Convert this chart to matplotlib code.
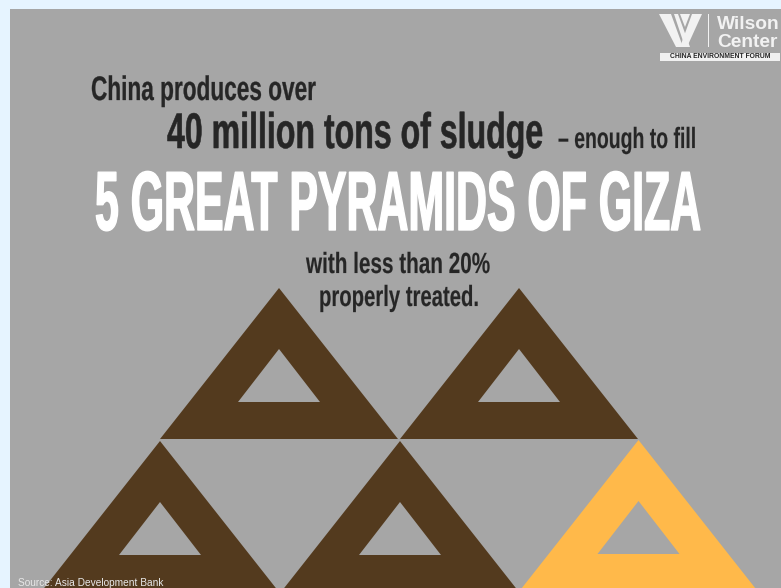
import matplotlib
matplotlib.use("Agg")
import matplotlib.pyplot as plt
import matplotlib.patheffects as pe
from matplotlib.patches import Polygon, Rectangle
from matplotlib.text import Text
from matplotlib.transforms import Affine2D, Bbox

# pyramids, left to right and top to bottom; the last one is the treated share
apex_x = [279, 519, 160, 400, 638.5]
apex_y = [288, 288, 441, 441, 440]
pyramid_color = ["#533A1E", "#533A1E", "#533A1E", "#533A1E", "#FFB94A"]

half_base = 119
height = 151
hole_top = 61
hole_height = 53
hole_half_base = 41

background = "#A6A6A6"
page = "#E6F4FF"
dark = "#262626"
logo = "#F2F2F2"

# squeezes glyphs sideways, there is no condensed font to hand
class Squeeze(pe.AbstractPathEffect):
    def __init__(self, sx, stroke):
        super().__init__()
        self.sx = sx
        self.stroke = stroke

    def draw_path(self, renderer, gc, tpath, affine, rgbFace=None):
        gc0 = renderer.new_gc()
        gc0.copy_properties(gc)
        gc0.set_linewidth(self.stroke)
        gc0.set_foreground(rgbFace)
        renderer.draw_path(gc0, tpath, Affine2D().scale(self.sx, 1) + affine, rgbFace)
        gc0.restore()


class CondensedText(Text):
    sx = 1.0

    def get_window_extent(self, renderer=None, dpi=None):
        box = super().get_window_extent(renderer, dpi)
        return Bbox.from_extents(box.x0, box.y0, box.x0 + box.width * self.sx, box.y1)


fig = plt.figure(figsize=(7.81, 5.88), dpi=100, facecolor=page)
ax = fig.add_axes([0, 0, 1, 1])
ax.set_xlim(0, 781)
ax.set_ylim(588, 0)
ax.axis("off")
renderer = fig.canvas.get_renderer()


def headline(s, left, right, baseline, size, color, stroke=0.0, weight="bold"):
    t = CondensedText(left, baseline, s, fontsize=size, color=color, family="Liberation Sans",
                      fontweight=weight, va="baseline", ha="left")
    ax.add_artist(t)
    # horizontal squeeze that makes the line run from left to right
    t.sx = (right - left) / Text.get_window_extent(t, renderer).width
    t.set_path_effects([Squeeze(t.sx, stroke)])
    return t


ax.add_patch(Rectangle((10, 9), 771, 579, color=background, lw=0))

for x, y, c in zip(apex_x, apex_y, pyramid_color):
    ax.add_patch(Polygon([(x, y), (x - half_base, y + height), (x + half_base, y + height)], color=c, lw=0))
    ax.add_patch(Polygon([(x, y + hole_top), (x - hole_half_base, y + hole_top + hole_height),
                          (x + hole_half_base, y + hole_top + hole_height)], color=background, lw=0))

headline("China produces over", 91, 316, 100, 24.5, dark, stroke=0.2)
headline("40 million tons of sludge", 167, 543, 148, 36, dark, stroke=0.4)
headline("– enough to fill", 558, 696, 148, 21, dark, stroke=0.1)
headline("5 GREAT PYRAMIDS OF GIZA", 95, 701, 230, 60.5, "white", stroke=1.0)
headline("with less than 20%", 306, 490, 273, 21, dark, stroke=0.1)
headline("properly treated.", 319, 479, 306, 21, dark, stroke=0.1)

ax.text(18, 586, "Source: Asia Development Bank", fontsize=7.3, color="#E8E8E8",
        family="Liberation Sans", va="baseline", ha="left")

# logo, top right
ax.add_patch(Polygon([(659, 14), (671, 14), (683, 47), (676, 47)], color=logo, lw=0))
ax.add_patch(Polygon([(674, 14), (678, 14), (690, 47), (685, 47)], color=logo, lw=0))
ax.add_patch(Polygon([(702, 14), (692, 14), (680, 47), (687, 47)], color=logo, lw=0))
ax.add_patch(Polygon([(680, 14), (690, 14), (685, 27)], color=logo, lw=0))
ax.add_patch(Rectangle((707.5, 14), 1, 33, color=logo, lw=0))
ax.text(717, 29, "Wilson", fontsize=13.8, color=logo, family="Liberation Sans", fontweight="bold", va="baseline")
ax.text(717, 47, "Center", fontsize=13.8, color=logo, family="Liberation Sans", fontweight="bold", va="baseline")
ax.add_patch(Rectangle((660, 53), 120, 8, color="#F0F0F0", lw=0))
ax.text(720, 57, "CHINA ENVIRONMENT FORUM", fontsize=4.9, color="#222222", family="Liberation Sans",
        fontweight="bold", va="center", ha="center")

fig.savefig("out.png", dpi=100, facecolor=page)
